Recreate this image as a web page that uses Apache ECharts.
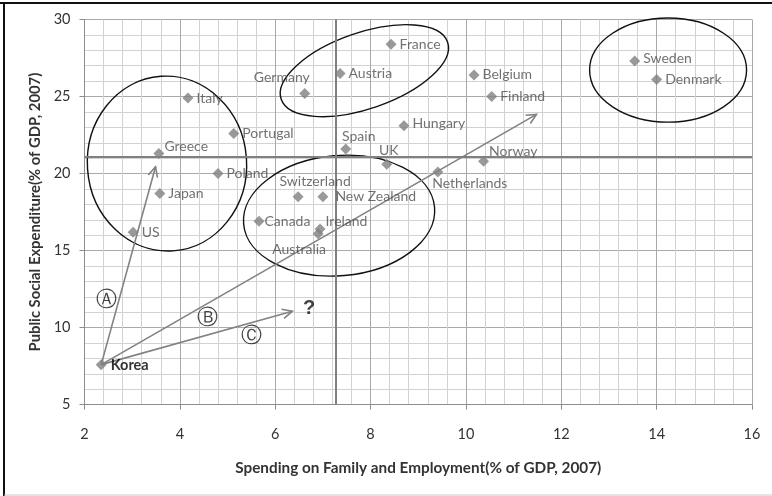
<!DOCTYPE html>
<html><head><meta charset="utf-8">
<script src="https://cdn.jsdelivr.net/npm/echarts@6/dist/echarts.min.js"></script>
<style>html,body{margin:0;padding:0;background:#fff}#c{width:772px;height:496px}</style>
</head><body><div id="c"></div>
<script>
// ---- data ----
const countries = ['Korea','US','Japan','Greece','Italy','Portugal','Poland','Germany','Austria','France','Belgium','Finland','Hungary','Spain','UK','Norway','Netherlands','Switzerland','New Zealand','Canada','Ireland','Australia','Sweden','Denmark'];
const familySpending    = [2.35,3.02,3.58,3.56,4.17,5.13,4.80,6.62,7.36,8.43,10.17,10.54,8.70,7.48,8.34,10.37,9.41,6.48,7.00,5.66,6.94,6.90,13.54,14.00];
const socialExpenditure = [7.6,16.2,18.7,21.3,24.9,22.6,20.0,25.2,26.5,28.4,26.4,25.0,23.1,21.6,20.6,20.8,20.1,18.5,18.5,16.9,16.4,16.1,27.3,26.1];
const averageFamily = 7.27;
const averageSocial = 21.1;
// arrows from Korea
const arrowStart = [2.35, 7.6];
const arrowEndsX = [3.49, 11.48, 6.36];
const arrowEndsY = [20.44, 23.84, 11.07];
// group ellipses: centre x, centre y, semi-axis (x units), semi-axis (y units), tilt deg
const ellipseCx = [3.73, 7.87, 7.34, 14.24];
const ellipseCy = [20.65, 26.68, 17.27, 26.72];
const ellipseRx = [1.67, 1.845, 2.01, 1.646];
const ellipseRy = [5.68, 2.47, 3.90, 3.38];
const ellipseTilt = [4, 19, 5, 0];
// annotation marks
const noteTexts = ['Ⓐ','Ⓑ','Ⓒ','?'];
const noteX = [2.47, 4.59, 5.50, 6.71];
const noteY = [11.78, 10.61, 9.40, 11.27];
const xTicks = {min: 2, max: 16, interval: 2};
const yTicks = {min: 5, max: 30, interval: 5};

// ---- label placement (style only) ----
const labelTweaks = {
  Korea:{offset:[1,1], bold:true},
  Greece:{offset:[-3,-7]},
  Hungary:{offset:[0,-2]},
  Germany:{position:'top', offset:[-23,0]},
  Spain:{position:'top', offset:[13,3]},
  UK:{position:'top', offset:[2,2]},
  Switzerland:{position:'top', offset:[17,0]},
  Norway:{offset:[-3,-10]},
  Ireland:{offset:[-3,-8]},
  Canada:{offset:[-3,0]},
  'New Zealand':{offset:[4,0]},
  Netherlands:{position:'bottom', offset:[32,-4]},
  Australia:{position:'bottom', offset:[-19,0]},
  Sweden:{offset:[0,-3]}
};

const FONT = 'Lato';
const pointData = countries.map((n,i)=>{
  const t = labelTweaks[n] || {};
  const item = {name:n, value:[familySpending[i], socialExpenditure[i]],
    label:{position:t.position||'right', offset:t.offset||[0,0]}};
  if (t.bold) { item.label.fontWeight='bold'; item.label.color='#000'; item.label.fontSize=14.5; }
  return item;
});
const arrowData = arrowEndsX.map((x,i)=>[arrowStart[0], arrowStart[1], x, arrowEndsY[i]]);
const ellipseData = ellipseCx.map((c,i)=>[c, ellipseCy[i], ellipseRx[i], ellipseRy[i], ellipseTilt[i]]);
const noteData = noteTexts.map((t,i)=>({name:t, value:[noteX[i], noteY[i]]}));

const chart = echarts.init(document.getElementById('c'), null, {renderer:'canvas'});
const axisCommon = {
  axisLine:{show:true, lineStyle:{color:'#8c8c8c', width:1}},
  axisTick:{show:true, length:5, lineStyle:{color:'#8c8c8c'}},
  splitLine:{show:true, lineStyle:{color:'#a9a9a9', width:1}},
  minorTick:{show:false, splitNumber:5},
  minorSplitLine:{show:true, lineStyle:{color:'#d2d2d2', width:1}},
  axisLabel:{color:'#333', fontSize:14.5, fontFamily:FONT},
  nameLocation:'middle',
  nameTextStyle:{color:'#333', fontWeight:'bold', fontSize:15.3, fontFamily:FONT}
};
chart.setOption({
  animation:false,
  backgroundColor:'#fff',
  textStyle:{fontFamily:FONT},
  grid:{left:84.5, right:20, top:19.5, bottom:91.3, containLabel:false},
  xAxis:Object.assign({}, axisCommon, {type:'value', min:xTicks.min, max:xTicks.max, interval:xTicks.interval,
    name:'Spending on Family and Employment(% of GDP, 2007)', nameGap:56,
    axisLabel:Object.assign({}, axisCommon.axisLabel, {margin:22})}),
  yAxis:Object.assign({}, axisCommon, {type:'value', min:yTicks.min, max:yTicks.max, interval:yTicks.interval,
    name:'Public Social Expenditure(% of GDP, 2007)', nameGap:40,
    nameTextStyle:Object.assign({}, axisCommon.nameTextStyle, {fontSize:14.8}),
    axisLabel:Object.assign({}, axisCommon.axisLabel, {margin:14})}),
  graphic:[
    {type:'line', shape:{x1:0,y1:3,x2:772,y2:3}, style:{stroke:'#111', lineWidth:2}},
    {type:'line', shape:{x1:4,y1:2,x2:4,y2:496}, style:{stroke:'#111', lineWidth:2}},
    {type:'line', shape:{x1:4,y1:495,x2:772,y2:495}, style:{stroke:'#c8c8c8', lineWidth:1}}
  ],
  series:[
    {
      type:'custom', name:'groups', silent:true, z:3,
      data:ellipseData,
      encode:{x:0, y:1},
      renderItem:function(params, api){
        const c = api.coord([api.value(0), api.value(1)]);
        const s = api.size([api.value(2), api.value(3)]);
        return {type:'ellipse', x:c[0], y:c[1], rotation:api.value(4)*Math.PI/180,
          shape:{cx:0, cy:0, rx:s[0], ry:s[1]},
          style:{stroke:'#111', lineWidth:1.4, fill:null}};
      }
    },
    {
      type:'custom', name:'arrows', silent:true, z:4,
      data:arrowData,
      encode:{x:[0,2], y:[1,3]},
      renderItem:function(params, api){
        const p1 = api.coord([api.value(0), api.value(1)]);
        const p2 = api.coord([api.value(2), api.value(3)]);
        const ang = Math.atan2(p2[1]-p1[1], p2[0]-p1[0]);
        const L = 11, a = Math.PI/7;
        const h1 = [p2[0]-L*Math.cos(ang-a), p2[1]-L*Math.sin(ang-a)];
        const h2 = [p2[0]-L*Math.cos(ang+a), p2[1]-L*Math.sin(ang+a)];
        return {type:'group', children:[
          {type:'line', shape:{x1:p1[0], y1:p1[1], x2:p2[0], y2:p2[1]}, style:{stroke:'#828282', lineWidth:1.6}},
          {type:'polyline', shape:{points:[h1, p2, h2]}, style:{stroke:'#828282', lineWidth:1.6, fill:null}}
        ]};
      }
    },
    {
      type:'scatter', name:'countries', z:5,
      symbol:'diamond', symbolSize:11,
      itemStyle:{color:'#7f7f7f'},
      label:{show:true, formatter:'{b}', distance:3, color:'#4d4d4d', fontSize:14, fontFamily:FONT},
      data:pointData,
      markLine:{
        silent:true, symbol:'none', label:{show:false},
        lineStyle:{color:'#808080', width:2, type:'solid'},
        data:[{xAxis:averageFamily}, {yAxis:averageSocial}]
      }
    },
    {
      type:'scatter', name:'notes', z:6, symbolSize:0, silent:true,
      label:{show:true, position:'inside', formatter:'{b}', color:'#111', fontSize:21, fontFamily:'DejaVu Serif'},
      data:noteData.map(d=> d.name==='?' ? Object.assign({}, d, {label:{fontSize:20, fontWeight:'bold', fontFamily:'Liberation Sans'}}) : d)
    }
  ]
});
</script>
</body></html>
